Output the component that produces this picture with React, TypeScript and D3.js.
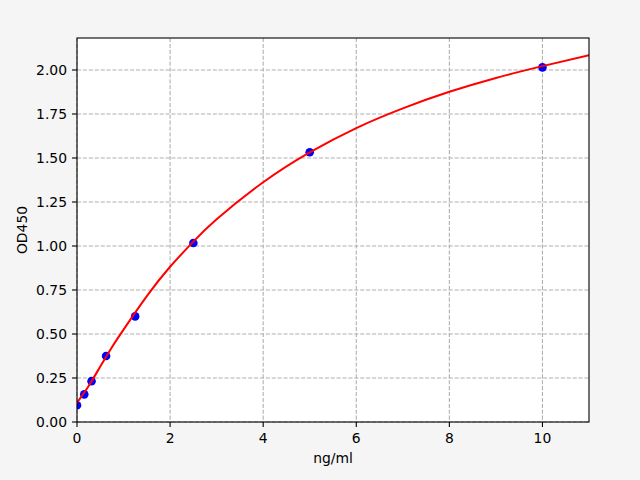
import React from "react";
import * as d3 from "d3";

const pointX = [0, 0.156, 0.3125, 0.625, 1.25, 2.5, 5, 10];
const pointY = [0.095, 0.157, 0.232, 0.375, 0.6, 1.017, 1.533, 2.015];

const curveX = [0, 0.25, 0.5, 0.75, 1, 1.5, 2, 2.5, 3, 4, 5, 6, 7, 8, 9, 10, 11];
const curveY = [0.11, 0.205, 0.315, 0.425, 0.525, 0.715, 0.882, 1.025, 1.152, 1.362, 1.532, 1.67, 1.782, 1.876, 1.955, 2.022, 2.084];

const xTicks = [0, 2, 4, 6, 8, 10];
const yTicks = [0, 0.25, 0.5, 0.75, 1.0, 1.25, 1.5, 1.75, 2.0];

const W = 640;
const H = 480;
const L = 77;
const R = 589;
const T = 38;
const B = 422;
const FONT = "DejaVu Sans, sans-serif";

export default function App() {
  const x = d3.scaleLinear().domain([0, 11]).range([L, R]);
  const y = d3.scaleLinear().domain([0, 384 / 176]).range([B, T]);
  const line = d3
    .line<number>()
    .x((_, i) => x(curveX[i]))
    .y((d) => y(d))
    .curve(d3.curveNatural);

  return (
    <div style={{ position: "fixed", left: 0, top: 0 }}>
      <svg width={W} height={H} style={{ display: "block" }}>
        <rect x={0} y={0} width={W} height={H} fill="#f5f5f5" />
        <rect x={L} y={T} width={R - L} height={B - T} fill="#ffffff" />
        <defs>
          <clipPath id="plotclip">
            <rect x={L} y={T} width={R - L} height={B - T} />
          </clipPath>
        </defs>
        {xTicks.map((t) => (
          <line key={"gx" + t} x1={x(t)} x2={x(t)} y1={T} y2={B} stroke="#b0b0b0" strokeWidth={1.1} strokeDasharray="4.1,1.8" />
        ))}
        {yTicks.map((t) => (
          <line key={"gy" + t} x1={L} x2={R} y1={y(t)} y2={y(t)} stroke="#b0b0b0" strokeWidth={1.1} strokeDasharray="4.1,1.8" />
        ))}
        <g clipPath="url(#plotclip)">
          {pointX.map((px, i) => (
            <circle key={"p" + i} cx={x(px)} cy={y(pointY[i])} r={4.3} fill="#0000ff" />
          ))}
          <path d={line(curveY) || ""} fill="none" stroke="#ff0000" strokeWidth={2} />
        </g>
        <rect x={L} y={T} width={R - L} height={B - T} fill="none" stroke="#000" strokeWidth={1.1} />
        {xTicks.map((t) => (
          <g key={"tx" + t}>
            <line x1={x(t)} x2={x(t)} y1={B} y2={B + 5} stroke="#000" strokeWidth={1.1} />
            <text x={x(t)} y={443} textAnchor="middle" fontFamily={FONT} fontSize={13.9} fill="#000">
              {t}
            </text>
          </g>
        ))}
        {yTicks.map((t) => (
          <g key={"ty" + t}>
            <line x1={L - 5} x2={L} y1={y(t)} y2={y(t)} stroke="#000" strokeWidth={1.1} />
            <text x={67} y={y(t) + 5} textAnchor="end" fontFamily={FONT} fontSize={13.9} fill="#000">
              {t.toFixed(2)}
            </text>
          </g>
        ))}
        <text x={(L + R) / 2} y={463} textAnchor="middle" fontFamily={FONT} fontSize={13.9} fill="#000">
          ng/ml
        </text>
        <text
          transform={`translate(27,${(T + B) / 2}) rotate(-90)`}
          textAnchor="middle"
          fontFamily={FONT}
          fontSize={13.9}
          fill="#000"
        >
          OD450
        </text>
      </svg>
    </div>
  );
}
